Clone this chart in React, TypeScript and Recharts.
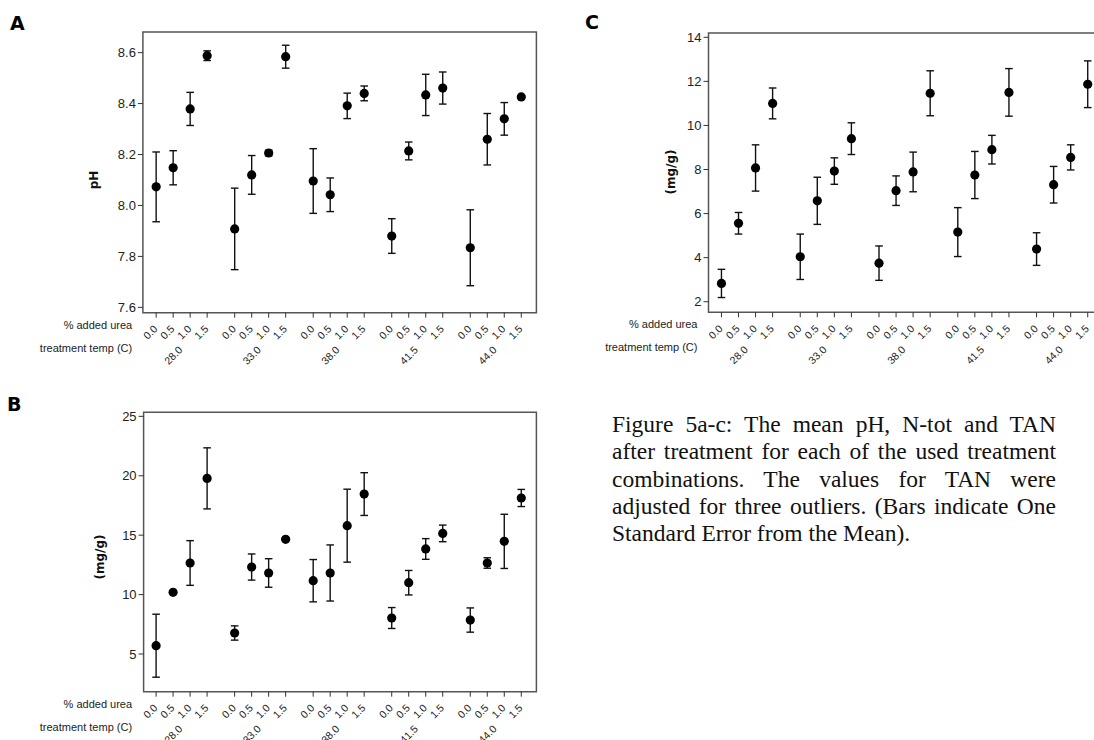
import React from 'react';
import { ScatterChart, Scatter, XAxis, YAxis, ErrorBar, ReferenceArea } from 'recharts';

// x layout: four urea levels per temperature group, groups separated by a gap
const ureaLevels = ['0.0', '0.5', '1.0', '1.5'];
const treatmentTemps = ['28.0', '33.0', '38.0', '41.5', '44.0'];

// A: pH
const phMean = [8.073, 8.148, 8.379, 8.588, 7.908, 8.12, 8.206, 8.584, 8.096, 8.042, 8.391, 8.44, 7.88, 8.214, 8.434, 8.461, 7.834, 8.26, 8.34, 8.426];
const phSE = [0.137, 0.067, 0.065, 0.019, 0.16, 0.076, 0.011, 0.045, 0.127, 0.066, 0.05, 0.029, 0.068, 0.035, 0.081, 0.063, 0.149, 0.101, 0.064, 0.004];
const phTicks = [7.6, 7.8, 8.0, 8.2, 8.4, 8.6];

// B: N-tot (mg/g)
const ntotMean = [5.7, 10.19, 12.66, 19.78, 6.77, 12.32, 11.82, 14.65, 11.17, 11.82, 15.8, 18.46, 8.03, 11.0, 13.84, 15.15, 7.86, 12.66, 14.48, 18.13];
const ntotSE = [2.65, 0.12, 1.88, 2.57, 0.6, 1.1, 1.2, 0.12, 1.78, 2.36, 3.07, 1.8, 0.88, 1.03, 0.87, 0.7, 1.02, 0.44, 2.28, 0.72];
const ntotTicks = [5, 10, 15, 20, 25];

// C: TAN (mg/g)
const tanMean = [2.83, 5.56, 8.07, 11.0, 4.04, 6.58, 7.93, 9.4, 3.75, 7.04, 7.89, 11.46, 5.16, 7.75, 8.9, 11.5, 4.39, 7.31, 8.55, 11.87];
const tanSE = [0.64, 0.49, 1.05, 0.7, 1.03, 1.07, 0.6, 0.72, 0.78, 0.67, 0.9, 1.02, 1.11, 1.07, 0.65, 1.08, 0.74, 0.83, 0.57, 1.06];
const tanTicks = [2, 4, 6, 8, 10, 12, 14];

const GROUP_STEP = 4.62;
const AXIS_FONT = '"Liberation Sans", Arial, sans-serif';
const LABEL_FONT = '"DejaVu Sans", Verdana, sans-serif';

const buildRows = (mean: number[], se: number[]) =>
  mean.map((m, k) => ({
    x: Math.floor(k / 4) * GROUP_STEP + (k % 4),
    y: m,
    se: se[k],
  }));

const xTicks = treatmentTemps.flatMap((_, g) => ureaLevels.map((_, i) => g * GROUP_STEP + i));

const BottomTick = (props: any) => {
  const { x, y, index, unitPx } = props;
  const i = index % 4;
  const g = Math.floor(index / 4);
  const ux = x + 2;
  const uy = y + 10;
  const tx = x + unitPx * 0.5 + 1.5;
  const ty = y + 31;
  return (
    <g fontFamily={AXIS_FONT} fill="#222">
      <text x={ux} y={uy} fontSize={10.5} textAnchor="end" transform={`rotate(-45 ${ux} ${uy})`}>
        {ureaLevels[i]}
      </text>
      {i === 1 && (
        <text x={tx} y={ty} fontSize={10.5} textAnchor="end" transform={`rotate(-45 ${tx} ${ty})`}>
          {treatmentTemps[g]}
        </text>
      )}
      {index === 0 && (
        <>
          <text x={x - 24} y={y + 9} fontSize={11} textAnchor="end">% added urea</text>
          <text x={x - 24} y={y + 32} fontSize={11} textAnchor="end">treatment temp (C)</text>
        </>
      )}
    </g>
  );
};

const Dot = (props: any) => <circle cx={props.cx} cy={props.cy} r={4.6} fill="#000" />;

interface PanelProps {
  mean: number[];
  se: number[];
  yDomain: [number, number];
  yTicks: number[];
  yDigits: number;
  xDomain: [number, number];
  left: number;
  top: number;
  width: number;
  height: number;
  yAxisWidth: number;
  marginTop: number;
  marginRight: number;
  marginBottom: number;
}

const Panel: React.FC<PanelProps> = (p) => {
  const rows = buildRows(p.mean, p.se);
  const plotWidth = p.width - p.yAxisWidth - p.marginRight;
  const unitPx = plotWidth / (p.xDomain[1] - p.xDomain[0]);
  return (
    <div style={{ position: 'absolute', left: p.left, top: p.top }}>
      <ScatterChart
        width={p.width}
        height={p.height}
        margin={{ top: p.marginTop, right: p.marginRight, bottom: p.marginBottom, left: 0 }}
      >
        <XAxis
          type="number"
          dataKey="x"
          domain={p.xDomain}
          ticks={xTicks}
          allowDataOverflow
          interval={0}
          height={55}
          axisLine={false}
          tickSize={5}
          tickLine={{ stroke: '#333' }}
          tick={<BottomTick unitPx={unitPx} />}
        />
        <YAxis
          type="number"
          dataKey="y"
          domain={p.yDomain}
          ticks={p.yTicks}
          allowDataOverflow
          width={p.yAxisWidth}
          axisLine={false}
          tickSize={5}
          tickLine={{ stroke: '#333' }}
          tickFormatter={(v: number) => v.toFixed(p.yDigits)}
          tick={{ fontSize: 13, fill: '#222', fontFamily: AXIS_FONT }}
        />
        <ReferenceArea
          x1={p.xDomain[0]}
          x2={p.xDomain[1]}
          y1={p.yDomain[0]}
          y2={p.yDomain[1]}
          fill="none"
          stroke="#555"
          strokeWidth={1.5}
          ifOverflow="visible"
        />
        <Scatter data={rows} dataKey="y" fill="#000" shape={Dot} isAnimationActive={false}>
          <ErrorBar dataKey="se" direction="y" width={3.8} stroke="#111" strokeWidth={1.4} />
        </Scatter>
      </ScatterChart>
    </div>
  );
};

const panelLetter: React.CSSProperties = {
  position: 'absolute',
  fontFamily: LABEL_FONT,
  fontWeight: 'bold',
  fontSize: 19,
  color: '#000',
};

const yTitle = (x: number, y: number, text: string): React.ReactNode => (
  <div
    style={{
      position: 'absolute',
      left: x,
      top: y,
      transform: 'translate(-50%, -50%) rotate(-90deg)',
      fontFamily: LABEL_FONT,
      fontWeight: 'bold',
      fontSize: 12,
      whiteSpace: 'nowrap',
      color: '#111',
    }}
  >
    {text}
  </div>
);

const captionLines = [
  'Figure 5a-c: The mean pH, N-tot and TAN',
  'after treatment for each of the used treatment',
  'combinations. The values for TAN were',
  'adjusted for three outliers. (Bars indicate One',
  'Standard Error from the Mean).',
];

export default function App() {
  return (
    <div
      style={{
        position: 'absolute',
        left: 0,
        top: 0,
        width: 1094,
        height: 740,
        overflow: 'hidden',
        background: '#fff',
      }}
    >
      <Panel
        mean={phMean}
        se={phSE}
        yDomain={[7.579, 8.681]}
        yTicks={phTicks}
        yDigits={1}
        xDomain={[-0.78, 22.37]}
        left={0}
        top={0}
        width={556}
        height={370}
        yAxisWidth={142.9}
        marginTop={32}
        marginRight={19.6}
        marginBottom={2.3}
      />
      <Panel
        mean={ntotMean}
        se={ntotSE}
        yDomain={[1.83, 25.34]}
        yTicks={ntotTicks}
        yDigits={0}
        xDomain={[-0.735, 22.37]}
        left={0}
        top={380}
        width={556}
        height={360}
        yAxisWidth={143.6}
        marginTop={32.3}
        marginRight={19.6}
        marginBottom={-6.7}
      />
      <Panel
        mean={tanMean}
        se={tanSE}
        yDomain={[1.52, 14.195]}
        yTicks={tanTicks}
        yDigits={0}
        xDomain={[-0.76, 22.37]}
        left={560}
        top={0}
        width={560}
        height={370}
        yAxisWidth={148.5}
        marginTop={33}
        marginRight={17.1}
        marginBottom={2.7}
      />
      <div style={{ ...panelLetter, left: 10, top: 12 }}>A</div>
      <div style={{ ...panelLetter, left: 7, top: 393 }}>B</div>
      <div style={{ ...panelLetter, left: 585, top: 11 }}>C</div>
      {yTitle(93.8, 180, 'pH')}
      {yTitle(100, 557, '(mg/g)')}
      {yTitle(670.7, 172, '(mg/g)')}
      <div
        style={{
          position: 'absolute',
          left: 612,
          top: 411,
          width: 444,
          fontFamily: '"Liberation Serif", "Times New Roman", serif',
          fontSize: 23.5,
          lineHeight: '27.3px',
          color: '#111',
        }}
      >
        {captionLines.map((line, k) => (
          <div
            key={k}
            style={{
              textAlign: 'justify',
              textAlignLast: k < captionLines.length - 1 ? 'justify' : 'left',
              whiteSpace: 'nowrap',
            }}
          >
            {line}
          </div>
        ))}
      </div>
    </div>
  );
}
